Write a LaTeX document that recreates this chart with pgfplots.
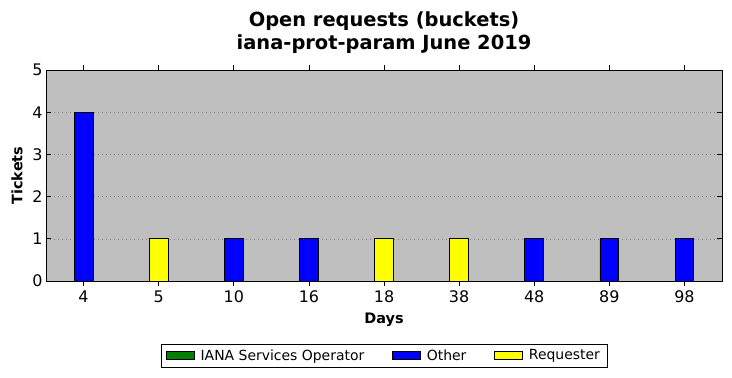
\documentclass[border=0pt]{standalone}
\usepackage{pgfplots}
\pgfplotsset{compat=1.18}
\usepackage{fontspec}
\setmainfont{DejaVu Sans}
\definecolor{bgc}{HTML}{BFBFBF}
\definecolor{mgreen}{HTML}{008000}
\definecolor{mblue}{HTML}{0000FF}
\definecolor{myellow}{HTML}{FFFF00}
\begin{document}
\begin{tikzpicture}[x=1bp,y=1bp]
\begin{axis}[
  name=ax,
  scale only axis,
  width=676bp, height=211bp,
  xmin=-0.5, xmax=8.5, ymin=0, ymax=5,
  axis background/.style={fill=bgc},
  xtick={0,...,8},
  xticklabels={4,5,10,16,18,38,48,89,98},
  ytick={0,1,2,3,4,5},
  tick align=inside,
  tick pos=both,
  major tick length=5bp,
  tick style={black, line width=0.6pt},
  axis line style={black, line width=0.8pt},
  ymajorgrids,
  grid style={dash pattern=on 1bp off 3bp, gray, line width=0.5pt},
  /pgf/number format/assume math mode=true,
  tick label style={font=\fontsize{16}{18}\selectfont},
  xticklabel style={yshift=-1bp},
  yticklabel style={xshift=0bp},
  xlabel={\textbf{Days}},
  ylabel={\textbf{Tickets}},
  label style={font=\fontsize{14.5}{16}\selectfont},
  xlabel style={at={(rel axis cs:0.5,0)}, anchor=center, yshift=-39bp},
  ylabel style={at={(rel axis cs:0,0.5)}, anchor=center, yshift=29bp},
  title={Open requests (buckets)\\iana-prot-param June 2019},
  title style={font=\bfseries\fontsize{19.5}{23}\selectfont, align=center, at={(rel axis cs:0.5,1)}, anchor=south, inner sep=0pt, yshift=10.5bp},
  ybar, bar width=0.25, bar shift=0pt,
  legend columns=3,
  legend style={at={(rel axis cs:0.5,0)}, anchor=center, yshift=-74.5bp, draw=black, line width=0.6pt,
    font=\fontsize{14}{16}\selectfont, inner xsep=5pt, inner ysep=3.5pt,
    /tikz/every even column/.append style={column sep=26bp},
    /tikz/every odd column/.append style={column sep=4bp}},
  legend image code/.code={\draw[#1, line width=0.5pt] (0bp,-4bp) rectangle (28bp,4bp);},
]
\addlegendimage{fill=mgreen, draw=black}
\addlegendentry{IANA Services Operator}
\addplot[fill=mblue, draw=black, line width=0.8pt] coordinates {(0,4) (2,1) (3,1) (6,1) (7,1) (8,1)};
\addlegendentry{Other}
\addplot[fill=myellow, draw=black, line width=0.8pt] coordinates {(1,1) (4,1) (5,1)};
\addlegendentry{Requester}
\end{axis}
\pgfresetboundingbox
\path[use as bounding box] ([shift={(-46bp,-97bp)}]ax.south west) rectangle ([shift={(10bp,70bp)}]ax.north east);
\end{tikzpicture}
\end{document}
